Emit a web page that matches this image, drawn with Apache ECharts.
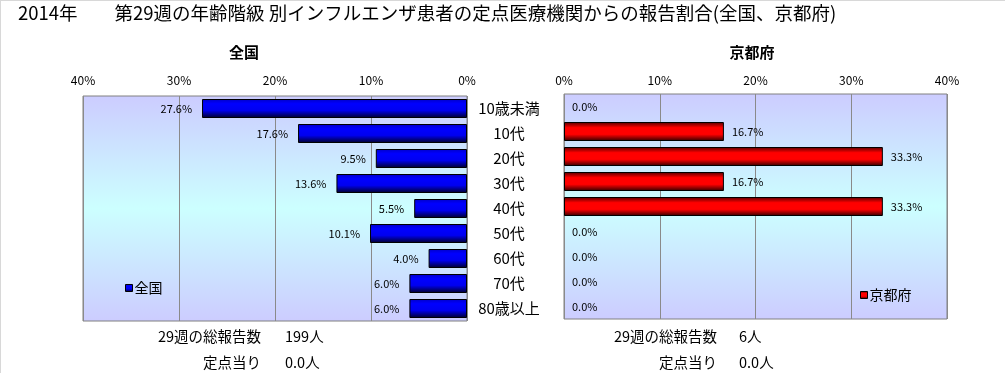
<!DOCTYPE html>
<html>
<head>
<meta charset="utf-8">
<script src="https://cdn.jsdelivr.net/npm/echarts@6/dist/echarts.min.js"></script>
<style>
html,body{margin:0;padding:0;background:#fff;}
#c{width:1006px;height:373px;}
</style>
</head>
<body>
<div id="c"></div>
<script>
var categories = ['10歳未満','10代','20代','30代','40代','50代','60代','70代','80歳以上'];
var nationalValues = [27.6, 17.6, 9.5, 13.6, 5.5, 10.1, 4.0, 6.0, 6.0];
var kyotoValues = [0.0, 16.7, 33.3, 16.7, 33.3, 0.0, 0.0, 0.0, 0.0];
var axisTicks = [0, 10, 20, 30, 40];
var mainTitle = '2014年　　第29週の年齢階級 別インフルエンザ患者の定点医療機関からの報告割合(全国、京都府)';
var nationalTotal = '199人';
var kyotoTotal = '6人';
var nationalPerPoint = '0.0人';
var kyotoPerPoint = '0.0人';

var FONT = '"Noto Sans CJK JP", "Noto Sans", sans-serif';
var chart = echarts.init(document.getElementById('c'), null, {renderer: 'canvas'});

function bgGrad() {
  return new echarts.graphic.LinearGradient(0, 0, 0, 1, [
    {offset: 0, color: '#ccccff'},
    {offset: 0.5, color: '#ccffff'},
    {offset: 1, color: '#ccccff'}
  ]);
}
var blueGrad = new echarts.graphic.LinearGradient(0, 0, 0, 1, [
  {offset: 0, color: '#0000c8'},
  {offset: 0.25, color: '#0000ff'},
  {offset: 0.6, color: '#0000f0'},
  {offset: 1, color: '#000028'}
]);
var redGrad = new echarts.graphic.LinearGradient(0, 0, 0, 1, [
  {offset: 0, color: '#500000'},
  {offset: 0.3, color: '#ff0000'},
  {offset: 0.65, color: '#ff0000'},
  {offset: 1, color: '#300000'}
]);

function toItems(arr) {
  return arr.map(function (v) {
    return v === 0 ? {value: v, itemStyle: {borderWidth: 0, borderColor: 'rgba(0,0,0,0)', color: 'rgba(0,0,0,0)'}} : v;
  });
}

function xAxisCommon(inverse, gridIndex, margin) {
  return {
    type: 'value', gridIndex: gridIndex, min: axisTicks[0], max: axisTicks[axisTicks.length - 1],
    interval: axisTicks[1] - axisTicks[0], inverse: inverse, position: 'top',
    axisLine: {show: false}, axisTick: {show: false},
    axisLabel: {formatter: '{value}%', color: '#000', fontSize: 12, fontFamily: FONT, margin: margin},
    splitLine: {show: true, lineStyle: {color: '#8a8a8a', width: 1}}
  };
}

var labelFmt = function (p) { return Number(p.value).toFixed(1) + '%'; };

var option = {
  animation: false,
  backgroundColor: '#fff',
  grid: [
    {left: 83, top: 96, width: 384, height: 225, show: true, backgroundColor: bgGrad(), borderColor: '#808080', borderWidth: 1},
    {left: 564, top: 94, width: 383, height: 225, show: true, backgroundColor: bgGrad(), borderColor: '#808080', borderWidth: 1}
  ],
  xAxis: [xAxisCommon(true, 0, 10), xAxisCommon(false, 1, 8)],
  yAxis: [
    {type: 'category', gridIndex: 0, data: categories, inverse: true, position: 'right',
     axisLine: {show: false}, axisTick: {show: false},
     axisLabel: {align: 'center', margin: 42, color: '#000', fontSize: 15, fontFamily: FONT}},
    {type: 'category', gridIndex: 1, data: categories, inverse: true,
     axisLine: {show: false}, axisTick: {show: false}, axisLabel: {show: false}}
  ],
  legend: [
    {data: [{name: '全国', itemStyle: {color: blueGrad, borderColor: '#000', borderWidth: 1}}], left: 120, top: 276, icon: 'rect', itemWidth: 7, itemHeight: 7, itemGap: 2,
     textStyle: {fontSize: 14, color: '#000', fontFamily: FONT, padding: [0, 0, 0, -3]}},
    {data: [{name: '京都府', itemStyle: {color: redGrad, borderColor: '#000', borderWidth: 1}}], left: 855, top: 283, icon: 'rect', itemWidth: 7, itemHeight: 7, itemGap: 2,
     textStyle: {fontSize: 14, color: '#000', fontFamily: FONT, padding: [0, 0, 0, -3]}}
  ],
  series: [
    {name: '全国', type: 'bar', xAxisIndex: 0, yAxisIndex: 0, data: toItems(nationalValues), barWidth: 19,
     itemStyle: {color: blueGrad, borderColor: '#000', borderWidth: 1},
     label: {show: true, position: 'left', distance: 10, color: '#000', fontSize: 11, fontFamily: FONT, formatter: labelFmt}},
    {name: '京都府', type: 'bar', xAxisIndex: 1, yAxisIndex: 1, data: toItems(kyotoValues), barWidth: 19,
     itemStyle: {color: redGrad, borderColor: '#000', borderWidth: 1},
     label: {show: true, position: 'right', distance: 8, color: '#000', fontSize: 11, fontFamily: FONT, formatter: labelFmt}}
  ],
  graphic: [
    {type: 'line', shape: {x1: 0, y1: 0.5, x2: 1005, y2: 0.5}, style: {stroke: '#d8d8d8', lineWidth: 1}, silent: true},
    {type: 'line', shape: {x1: 0.5, y1: 0, x2: 0.5, y2: 373}, style: {stroke: '#d8d8d8', lineWidth: 1}, silent: true},
    {type: 'text', left: 18, top: 4, style: {text: mainTitle, fill: '#000', font: '18.5px ' + FONT}},
    {type: 'text', x: 244, y: 52, style: {text: '全国', fill: '#000', font: 'bold 15px ' + FONT, align: 'center', verticalAlign: 'middle'}},
    {type: 'text', x: 752, y: 52, style: {text: '京都府', fill: '#000', font: 'bold 15px ' + FONT, align: 'center', verticalAlign: 'middle'}},
    {type: 'text', x: 261, y: 336, style: {text: '29週の総報告数', fill: '#000', font: '14.5px ' + FONT, align: 'right', verticalAlign: 'middle'}},
    {type: 'text', x: 285, y: 336, style: {text: nationalTotal, fill: '#000', font: '14.5px ' + FONT, align: 'left', verticalAlign: 'middle'}},
    {type: 'text', x: 261, y: 362, style: {text: '定点当り', fill: '#000', font: '14.5px ' + FONT, align: 'right', verticalAlign: 'middle'}},
    {type: 'text', x: 285, y: 362, style: {text: nationalPerPoint, fill: '#000', font: '14.5px ' + FONT, align: 'left', verticalAlign: 'middle'}},
    {type: 'text', x: 717, y: 336, style: {text: '29週の総報告数', fill: '#000', font: '14.5px ' + FONT, align: 'right', verticalAlign: 'middle'}},
    {type: 'text', x: 739, y: 336, style: {text: kyotoTotal, fill: '#000', font: '14.5px ' + FONT, align: 'left', verticalAlign: 'middle'}},
    {type: 'text', x: 717, y: 362, style: {text: '定点当り', fill: '#000', font: '14.5px ' + FONT, align: 'right', verticalAlign: 'middle'}},
    {type: 'text', x: 739, y: 362, style: {text: kyotoPerPoint, fill: '#000', font: '14.5px ' + FONT, align: 'left', verticalAlign: 'middle'}}
  ]
};
chart.setOption(option);
</script>
</body>
</html>
